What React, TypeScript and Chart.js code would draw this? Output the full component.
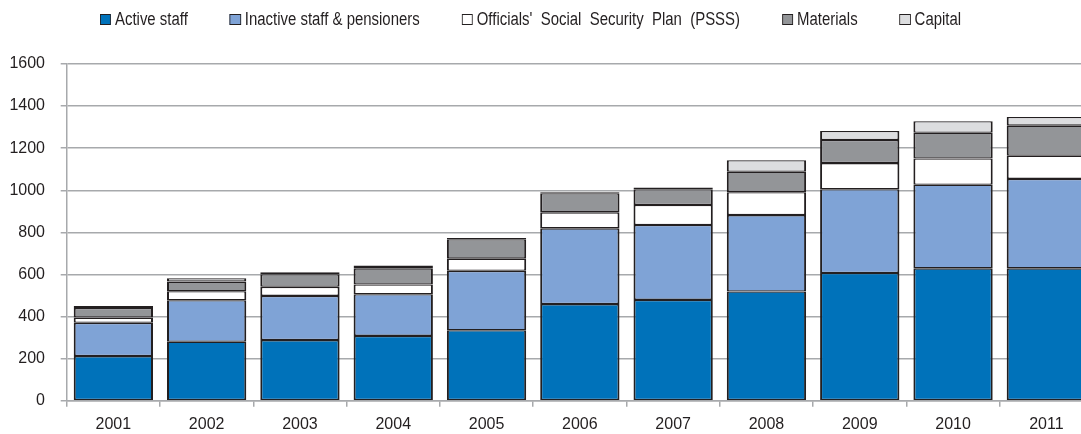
import React, { useEffect, useRef } from "react";
import { Chart, registerables } from "chart.js";

Chart.register(...registerables);

const years = ["2001", "2002", "2003", "2004", "2005", "2006", "2007", "2008", "2009", "2010", "2011"];
const activeStaff = [212, 280, 288, 308, 335, 459, 479, 519, 607, 629, 629];
const inactiveStaff = [158, 197, 210, 198, 282, 360, 356, 363, 398, 397, 425];
const psss = [25, 43, 43, 46, 58, 76, 95, 109, 124, 125, 110];
const materials = [46, 46, 60, 77, 92, 91, 75, 97, 110, 122, 143];
const capital = [9, 16, 9, 13, 6, 5, 8, 55, 43, 55, 41];
const seriesNames = [
  "Active staff",
  "Inactive staff & pensioners",
  "Officials' Social Security Plan (PSSS)",
  "Materials",
  "Capital",
];
const seriesColors = ["#0072BA", "#7FA3D6", "#FFFFFF", "#939598", "#DCDDDF"];
const yMax = 1600;
const yStep = 200;

const FONT = "'Liberation Sans', Arial, sans-serif";
const TEXT = "#231F20";
const GRID = "#A7A9AC";
const LEGEND_SCALE = 0.83;

export default function App() {
  const ref = useRef<HTMLCanvasElement | null>(null);

  useEffect(() => {
    document.body.style.margin = "0";
    const values = [activeStaff, inactiveStaff, psss, materials, capital];
    const chart = new Chart(ref.current!, {
      type: "bar",
      data: {
        labels: years,
        datasets: values.map((v, i) => ({
          label: seriesNames[i],
          data: v,
          backgroundColor: seriesColors[i],
          borderColor: TEXT,
          borderWidth: { top: 1.3, bottom: 1.3, left: 2, right: 2 },
          borderSkipped: false,
          categoryPercentage: 1,
          barPercentage: 0.85,
        })),
      },
      options: {
        responsive: false,
        animation: false,
        devicePixelRatio: 1,
        layout: { padding: { top: 64, left: 9, right: 7, bottom: 0 } },
        plugins: { legend: { display: false }, tooltip: { enabled: false } },
        scales: {
          x: {
            stacked: true,
            grid: { drawOnChartArea: false, drawTicks: true, tickLength: 6, color: GRID, lineWidth: 1.5, offset: true },
            border: { display: true, color: GRID, width: 1.5 },
            ticks: { color: TEXT, font: { family: FONT, size: 16 }, padding: 8.5 },
            afterFit: (s: any) => {
              s.height = 33.3;
            },
          },
          y: {
            stacked: true,
            min: 0,
            max: yMax,
            grid: { color: GRID, lineWidth: 1.5, drawTicks: true, tickLength: 6 },
            border: { display: true, color: GRID, width: 1.5 },
            ticks: {
              stepSize: yStep,
              color: TEXT,
              font: { family: FONT, size: 16 },
              padding: 15.7,
              callback: (v: any) => String(v),
            },
            afterFit: (s: any) => {
              s.width = 57.7;
            },
          },
        },
      },
    });
    return () => chart.destroy();
  }, []);

  return (
    <div style={{ position: "fixed", left: 0, top: 0, width: 1081, height: 434, overflow: "hidden", background: "#fff" }}>
      <canvas ref={ref} width={1100} height={434} style={{ position: "absolute", left: 0, top: 0 }} />
      <div
        style={{
          position: "absolute",
          left: 100,
          top: 8,
          display: "flex",
          gap: 42 / LEGEND_SCALE,
          fontFamily: FONT,
          fontSize: 18,
          color: TEXT,
          whiteSpace: "nowrap",
          lineHeight: "22px",
          transform: `scaleX(${LEGEND_SCALE})`,
          transformOrigin: "0 0",
        }}
      >
        {seriesNames.map((n, i) => (
          <div key={n} style={{ display: "flex", alignItems: "center" }}>
            <span
              style={{
                display: "inline-block",
                boxSizing: "border-box",
                width: 11 / LEGEND_SCALE,
                height: 11,
                background: seriesColors[i],
                border: `1.5px solid ${TEXT}`,
                marginRight: 4 / LEGEND_SCALE,
              }}
            />
            <span style={{ wordSpacing: i === 2 ? 5 : 0 }}>{n}</span>
          </div>
        ))}
      </div>
    </div>
  );
}
